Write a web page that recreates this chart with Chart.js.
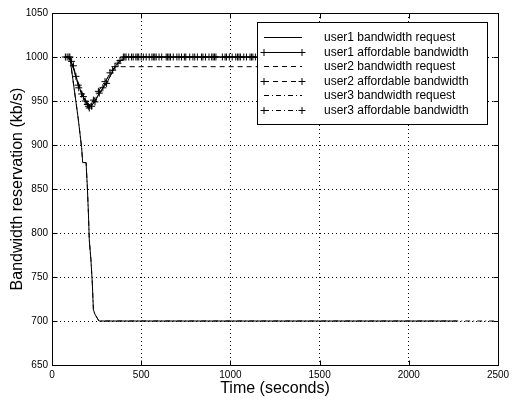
<!DOCTYPE html>
<html><head><meta charset="utf-8">
<script src="https://cdn.jsdelivr.net/npm/chart.js@4"></script>
<style>html,body{margin:0;padding:0;background:#fff}canvas{display:block}</style>
</head><body>
<canvas id="c" width="519" height="407"></canvas>
<script>
// ---- data ----
const xTickValues = [0, 500, 1000, 1500, 2000, 2500];
const yTickValues = [650, 700, 750, 800, 850, 900, 950, 1000, 1050];
const legendLabels = [
  'user1 bandwidth request', 'user1 affordable bandwidth',
  'user2 bandwidth request', 'user2 affordable bandwidth',
  'user3 bandwidth request', 'user3 affordable bandwidth'
];

const u1ReqT = [100, 147, 166, 172, 191, 198, 204, 209, 218, 226, 232, 240, 263, 2268];
const u1ReqV = [1000, 930, 897, 880, 880, 853, 823, 792, 770, 743, 713, 708, 700, 700];

const u1AffT = [75, 100, 134, 166, 198, 222, 265, 306, 353, 400,
  430, 470, 500, 545, 600, 640, 680, 726, 772, 815,
  860, 903, 955, 994, 1040, 1090, 1126, 1300, 1700, 2100, 2268];
const u1AffV = [1000, 1000, 978, 958, 946, 944, 959, 970, 989, 1000,
  1000, 1000, 1000, 1000, 1000, 1000, 1000, 1000, 1000, 1000,
  1000, 1000, 1000, 1000, 1000, 1000, 1000, 1000, 1000, 1000, 1000];

const u2ReqT = [100, 134, 176, 209, 241, 265, 306, 353, 2268];
const u2ReqV = [1000, 978, 956, 943, 949, 959, 970, 989, 989];

const u2AffT = [85, 110, 147, 176, 209, 241, 285, 325, 381, 408,
  446, 478, 512, 560, 576, 615, 656, 700, 742, 790,
  838, 880, 919, 970, 1010, 1056, 1110, 1140, 1500, 1900, 2268];
const u2AffV = [1000, 995, 968, 955, 942, 949, 965, 982, 996, 1000,
  1000, 1000, 1000, 1000, 1000, 1000, 1000, 1000, 1000, 1000,
  1000, 1000, 1000, 1000, 1000, 1000, 1000, 1000, 1000, 1000, 1000];

const u3ReqT = [100, 147, 166, 172, 191, 198, 204, 209, 218, 226, 232, 240, 263, 2490];
const u3ReqV = [1000, 930, 897, 880, 880, 853, 823, 792, 770, 743, 713, 708, 700, 700];

const u3AffT = [95, 120, 150, 186, 204, 232, 260, 297, 340, 370,
  415, 455, 486, 528, 568, 584, 648, 664, 712, 750,
  800, 846, 895, 911, 978, 1030, 1048, 1075, 1118, 1200, 1600, 2000, 2268];
const u3AffV = [1000, 990, 965, 950, 944, 951, 961, 972, 985, 993,
  1000, 1000, 1000, 1000, 1000, 1000, 1000, 1000, 1000, 1000,
  1000, 1000, 1000, 1000, 1000, 1000, 1000, 1000, 1000, 1000, 1000, 1000, 1000];

// ---- styles ----
const FONT = '"Liberation Sans", Arial, Helvetica, sans-serif';
const DASH = [5, 4];
const DASHDOT = [5, 3, 1, 3];
const styles = [
  {dash: [], marker: false},
  {dash: [], marker: true},
  {dash: DASH, marker: false},
  {dash: DASH, marker: true},
  {dash: DASHDOT, marker: false},
  {dash: DASHDOT, marker: true}
];
const seriesT = [u1ReqT, u1AffT, u2ReqT, u2AffT, u3ReqT, u3AffT];
const seriesV = [u1ReqV, u1AffV, u2ReqV, u2AffV, u3ReqV, u3AffV];

const datasets = legendLabels.map((label, i) => ({
  label,
  data: seriesT[i].map((t, k) => ({x: t, y: seriesV[i][k]})),
  borderColor: '#000',
  backgroundColor: '#000',
  borderWidth: 1,
  borderDash: styles[i].dash,
  pointStyle: 'cross',
  pointRadius: styles[i].marker ? 3.5 : 0,
  pointBorderWidth: 1,
  pointBorderColor: '#000',
  tension: 0,
  fill: false
}));

const framePlugin = {
  id: 'frame',
  afterDraw(chart) {
    const ctx = chart.ctx;
    const a = chart.chartArea;
    const xs = chart.scales.x, ys = chart.scales.y;
    ctx.save();
    ctx.strokeStyle = '#000';
    ctx.lineWidth = 1;
    ctx.setLineDash([]);
    const L = Math.round(a.left) + 0.5, R = Math.round(a.right) + 0.5;
    const T = Math.round(a.top) + 0.5, B = Math.round(a.bottom) + 0.5;
    ctx.strokeRect(L, T, R - L, B - T);
    const tl = 5;
    ctx.beginPath();
    xTickValues.forEach(v => {
      const px = Math.round(xs.getPixelForValue(v)) + 0.5;
      ctx.moveTo(px, B); ctx.lineTo(px, B - tl);
      ctx.moveTo(px, T); ctx.lineTo(px, T + tl);
    });
    yTickValues.forEach(v => {
      const py = Math.round(ys.getPixelForValue(v)) + 0.5;
      ctx.moveTo(L, py); ctx.lineTo(L + tl, py);
      ctx.moveTo(R, py); ctx.lineTo(R - tl, py);
    });
    ctx.stroke();

    // legend box
    const bx = 257, by = 22, bw = 230, bh = 102;
    ctx.fillStyle = '#fff';
    ctx.fillRect(bx, by, bw, bh);
    ctx.strokeRect(bx + 0.5, by + 0.5, bw, bh);
    ctx.font = '12px ' + FONT;
    ctx.textBaseline = 'middle';
    ctx.textAlign = 'left';
    ctx.fillStyle = '#000';
    legendLabels.forEach((lab, i) => {
      const y = Math.round(by + 15 + i * 14.5) + 0.5;
      const x0 = 264, x1 = 302;
      ctx.setLineDash(styles[i].dash);
      ctx.beginPath(); ctx.moveTo(x0, y); ctx.lineTo(x1, y); ctx.stroke();
      ctx.setLineDash([]);
      if (styles[i].marker) {
        [x0, x1].forEach(mx => {
          ctx.beginPath();
          ctx.moveTo(mx - 3.5, y); ctx.lineTo(mx + 3.5, y);
          ctx.moveTo(mx, y - 3.5); ctx.lineTo(mx, y + 3.5);
          ctx.stroke();
        });
      }
      ctx.fillText(lab, 324, y);
    });
    ctx.restore();
  }
};

new Chart(document.getElementById('c'), {
  type: 'line',
  data: {datasets},
  options: {
    responsive: false,
    animation: false,
    layout: {padding: {left: 0, right: 21, top: 13, bottom: 0}},
    plugins: {legend: {display: false}, tooltip: {enabled: false}},
    scales: {
      x: {
        type: 'linear', min: 0, max: 2500,
        afterFit(s) { s.height = 42; },
        afterBuildTicks(s) { s.ticks = xTickValues.map(v => ({value: v})); },
        ticks: {color: '#000', font: {family: FONT, size: 10}, padding: 4, maxRotation: 0,
          callback: v => String(v)},
        grid: {color: '#000', lineWidth: 1, drawTicks: false},
        border: {display: false, dash: [1, 3]},
        title: {display: true, text: 'Time (seconds)', color: '#000',
          font: {family: FONT, size: 16}, padding: {top: 0, bottom: 9}}
      },
      y: {
        type: 'linear', min: 650, max: 1050,
        afterFit(s) { s.width = 52; },
        afterBuildTicks(s) { s.ticks = yTickValues.map(v => ({value: v})); },
        ticks: {color: '#000', font: {family: FONT, size: 10}, padding: 4,
          callback: v => String(v)},
        grid: {color: '#000', lineWidth: 1, drawTicks: false},
        border: {display: false, dash: [1, 3]},
        title: {display: true, text: 'Bandwidth reservation (kb/s)', color: '#000',
          font: {family: FONT, size: 16}, padding: {top: 8, bottom: 0}}
      }
    }
  },
  plugins: [framePlugin]
});
</script>
</body></html>
